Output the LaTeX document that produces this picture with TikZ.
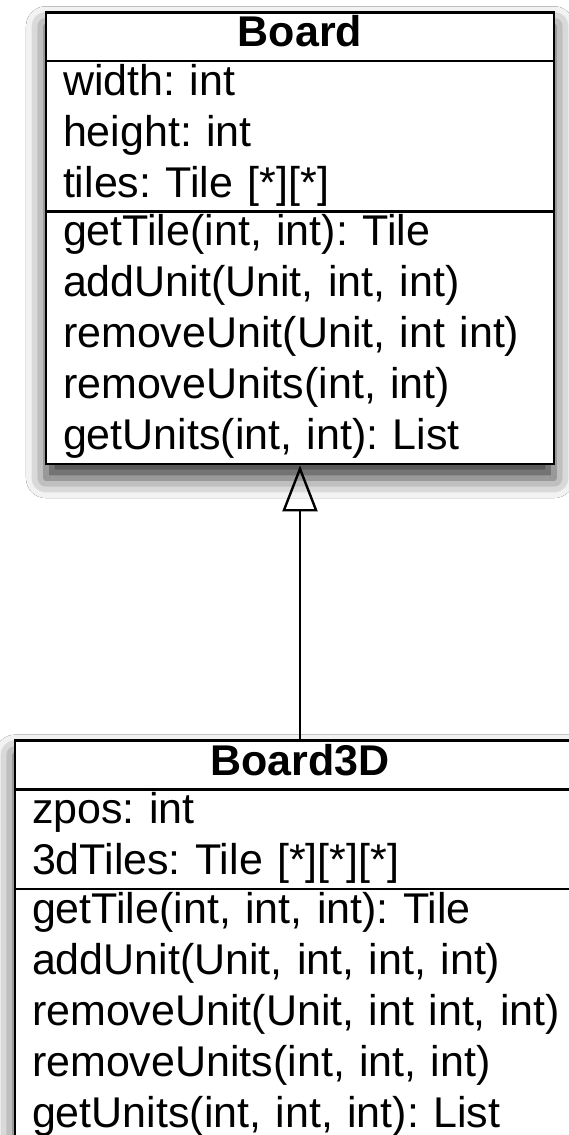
\documentclass[tikz,border=0pt]{standalone}
\usepackage{fontspec}
\setmainfont{Liberation Sans}
\usetikzlibrary{arrows.meta,positioning,shapes.multipart,shadows.blur}
\frenchspacing
\newcommand{\umlStrut}{\rule[-12pt]{0pt}{44pt}}
\tikzset{
  umlclass/.style={draw=black,line width=2.6pt,fill=white,
    rectangle split,rectangle split parts=3,
    text width=#1,align=left,inner xsep=17pt,inner ysep=1pt,
    font=\fontsize{43}{51}\selectfont,
    blur shadow={shadow xshift=0pt,shadow yshift=-14pt,
      shadow blur radius=20pt,shadow opacity=80}},
  inherits/.style={line width=2.4pt,
    -{Triangle[open,length=46pt,width=35pt,line width=2.4pt]}}
}
\begin{document}
\begin{tikzpicture}[x=1pt,y=1pt]
  \clip (0,0) rectangle (569,-1135);
  \fill[white] (0,0) rectangle (569,-1135);
  \node[umlclass=474pt,anchor=north] (board) at (300,-11)
    {{\centering\bfseries\umlStrut Board\umlStrut\par}
     \nodepart{second}\umlStrut width: int\\
      height: int\\
      tiles: Tile [*][*]\umlStrut
     \nodepart{third}\umlStrut getTile(int, int): Tile\\
      addUnit(Unit, int, int)\\
      removeUnit(Unit, int int)\\
      removeUnits(int, int)\\
      getUnits(int, int): List\umlStrut};
  \node[umlclass=536pt,below=274pt of board] (board3d)
    {{\centering\bfseries\umlStrut Board3D\umlStrut\par}
     \nodepart{second}\umlStrut zpos: int\\
      3dTiles: Tile [*][*][*]\umlStrut
     \nodepart{third}\umlStrut getTile(int, int, int): Tile\\
      addUnit(Unit, int, int, int)\\
      removeUnit(Unit, int int, int)\\
      removeUnits(int, int, int)\\
      getUnits(int, int, int): List\umlStrut};
  \draw[inherits] (board3d.north) -- (board.south);
\end{tikzpicture}
\end{document}
